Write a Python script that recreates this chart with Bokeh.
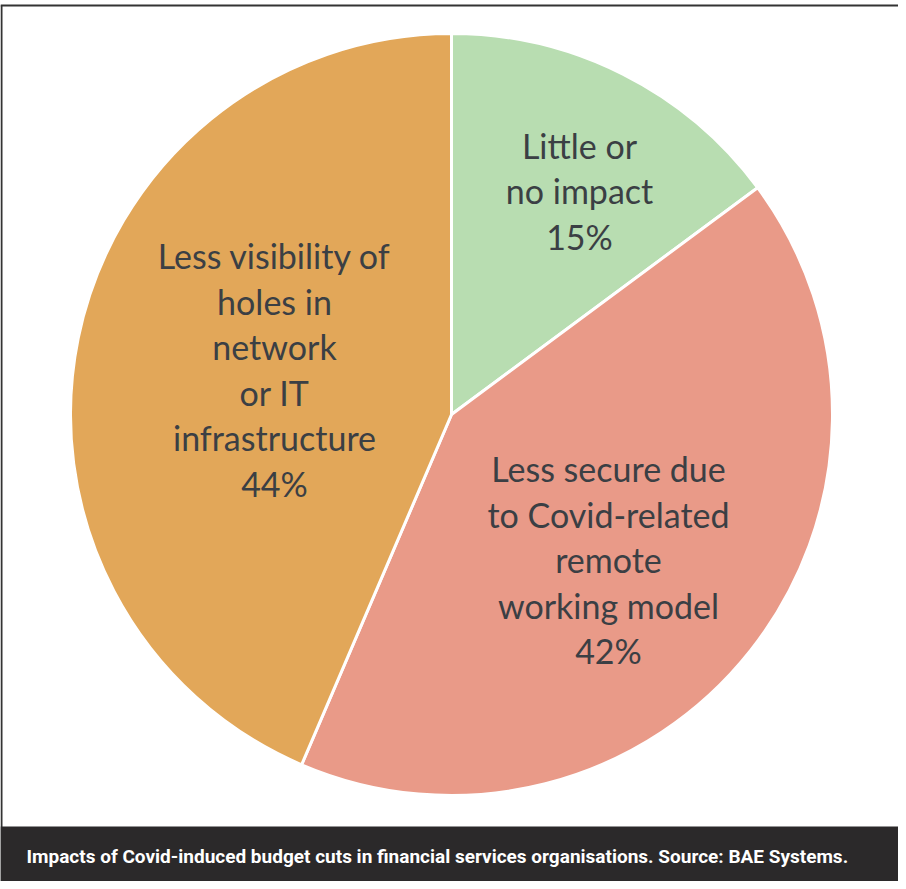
import math
from bokeh.plotting import figure
from bokeh.models import Range1d, ColumnDataSource
from bokeh.core.properties import value
from bokeh.embed import file_html
from bokeh.resources import INLINE

# ---- data ----
categories = ["Little or\nno impact", "Less secure due\nto Covid-related\nremote\nworking model",
              "Less visibility of\nholes in\nnetwork\nor IT\ninfrastructure"]
shares = [15, 42, 44]
caption = "Impacts of Covid-induced budget cuts in financial services organisations. Source: BAE Systems."

# ---- style ----
colors = ["#B8DDB1", "#E99A88", "#E2A759"]
label_offsets = [(128, 224), (157, -145), (-177, 45)]  # label block centre relative to pie centre (px)
W, H = 898, 881
cx, cy, R = 451, 467, 381
line_h = 45.5
text_color = "#3B3F44"

p = figure(width=W, height=H, output_backend="svg", toolbar_location=None,
           x_range=Range1d(0, W), y_range=Range1d(0, H), min_border=0)
p.axis.visible = False
p.grid.visible = False
p.outline_line_color = None
p.background_fill_color = "white"
p.border_fill_color = "white"

total = sum(shares)
starts, ends = [], []
cum = 0.0
for s in shares:
    a0 = math.pi / 2 - 2 * math.pi * cum / total
    cum += s
    a1 = math.pi / 2 - 2 * math.pi * cum / total
    starts.append(a1)
    ends.append(a0)

src = ColumnDataSource(dict(start=starts, end=ends, color=colors))
p.wedge(x=cx, y=cy, radius=R, start_angle="start", end_angle="end", fill_color="color",
        line_color="white", line_width=3, source=src)

# labels
tx, ty, tt = [], [], []
for cat, s, (dx, dy) in zip(categories, shares, label_offsets):
    lines = cat.split("\n") + [f"{s}%"]
    n = len(lines)
    for i, ln in enumerate(lines):
        tx.append(cx + dx)
        ty.append(cy + dy + (n - 1) / 2 * line_h - i * line_h)
        tt.append(ln)
p.text(x=tx, y=ty, text=tt, text_font=value("Lato"), text_font_size="34px",
       text_color=text_color, text_align="center", text_baseline="middle")

# frame lines
p.segment(x0=[0, 1], y0=[876, 876], x1=[W, 1], y1=[876, 0], line_color="#333333", line_width=2)

# caption bar
p.quad(left=0, right=W, bottom=0, top=55, fill_color="#2B292A", line_color=None)
p.text(x=[26], y=[25], text=[caption], text_font=value("Roboto"), text_font_style="bold",
       text_font_size="19px", text_color="white", text_align="left", text_baseline="middle")

open("out.html", "w").write(file_html(p, INLINE))
